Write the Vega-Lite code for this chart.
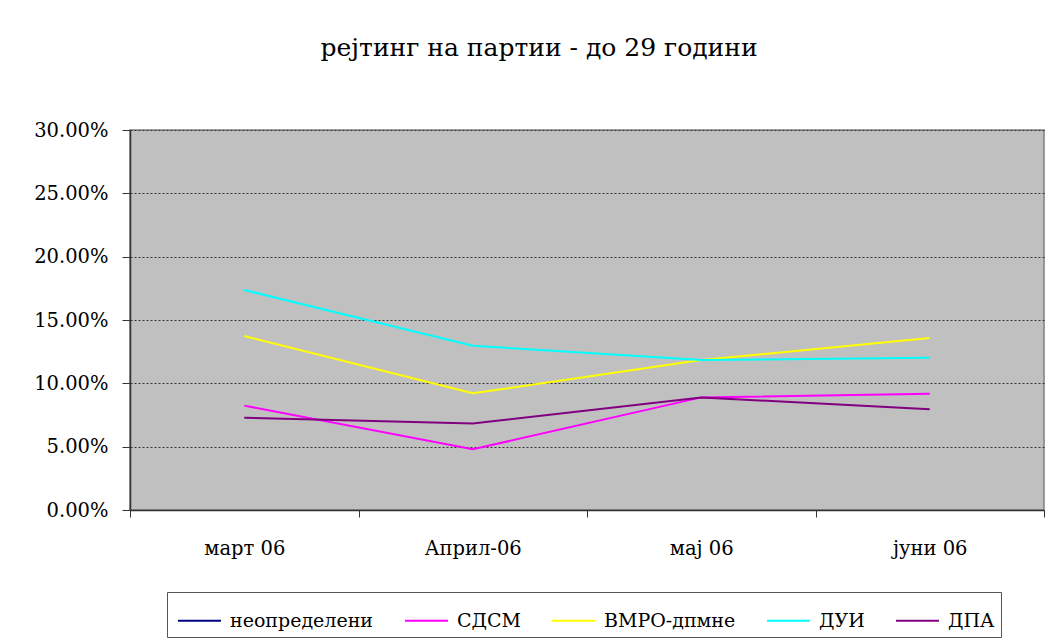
{
  "$schema": "https://vega.github.io/schema/vega-lite/v6.json",
  "autosize": "none",
  "width": 914,
  "height": 380,
  "padding": {"left": 130, "top": 130, "right": 6, "bottom": 130},
  "background": "white",
  "title": {
    "text": "рејтинг на партии - до 29 години",
    "font": "DejaVu Serif",
    "fontSize": 25,
    "fontWeight": "normal",
    "color": "black",
    "anchor": "middle",
    "frame": "bounds",
    "offset": 59
  },
  "config": {
    "view": {"fill": "#c0c0c0", "stroke": "#808080", "strokeWidth": 1.5},
    "axis": {"labelFont": "DejaVu Serif", "labelFontSize": 19.5, "labelColor": "black", "domainColor": "#333333", "tickColor": "#333333", "domainWidth": 1.5}
  },
  "data": {
    "values": [
      {"month": "март 06", "party": "СДСМ", "value": 0.0824},
      {"month": "Април-06", "party": "СДСМ", "value": 0.0479},
      {"month": "мај 06", "party": "СДСМ", "value": 0.0889},
      {"month": "јуни 06", "party": "СДСМ", "value": 0.0918},
      {"month": "март 06", "party": "ВМРО-дпмне", "value": 0.1373},
      {"month": "Април-06", "party": "ВМРО-дпмне", "value": 0.0921},
      {"month": "мај 06", "party": "ВМРО-дпмне", "value": 0.1184},
      {"month": "јуни 06", "party": "ВМРО-дпмне", "value": 0.1358},
      {"month": "март 06", "party": "ДУИ", "value": 0.1737},
      {"month": "Април-06", "party": "ДУИ", "value": 0.1297},
      {"month": "мај 06", "party": "ДУИ", "value": 0.1184},
      {"month": "јуни 06", "party": "ДУИ", "value": 0.1202},
      {"month": "март 06", "party": "ДПА", "value": 0.0729},
      {"month": "Април-06", "party": "ДПА", "value": 0.0682},
      {"month": "мај 06", "party": "ДПА", "value": 0.0889},
      {"month": "јуни 06", "party": "ДПА", "value": 0.0795}
    ]
  },
  "mark": {"type": "line", "strokeWidth": 2, "clip": true},
  "encoding": {
    "x": {
      "field": "month",
      "type": "nominal",
      "sort": ["март 06", "Април-06", "мај 06", "јуни 06"],
      "scale": {"paddingInner": 0, "paddingOuter": 0},
      "axis": {"title": null, "labelAngle": 0, "tickBand": "extent", "tickSize": 7, "labelPadding": 22, "grid": false}
    },
    "y": {
      "field": "value",
      "type": "quantitative",
      "scale": {"domain": [0, 0.3], "nice": false},
      "axis": {"title": null, "format": ".2%", "values": [0, 0.05, 0.1, 0.15, 0.2, 0.25, 0.3], "tickSize": 8, "labelPadding": 14, "grid": true, "gridColor": "#333333", "gridDash": [2, 2], "gridWidth": 1}
    },
    "color": {
      "field": "party",
      "type": "nominal",
      "scale": {
        "domain": ["неопределени", "СДСМ", "ВМРО-дпмне", "ДУИ", "ДПА"],
        "range": ["#000080", "#ff00ff", "#ffff00", "#00ffff", "#800080"]
      },
      "legend": {
        "title": null,
        "orient": "none",
        "legendX": 37,
        "legendY": 462,
        "direction": "horizontal",
        "symbolType": "stroke",
        "symbolSize": 1849,
        "symbolStrokeWidth": 2,
        "symbolOffset": 4,
        "labelFont": "DejaVu Serif",
        "labelFontSize": 19,
        "labelColor": "black",
        "labelOffset": 8,
        "labelExpr": "datum.label + '  '",
        "columnPadding": 26,
        "strokeColor": "#555555",
        "padding": 6,
        "fillColor": "white"
      }
    }
  }
}
